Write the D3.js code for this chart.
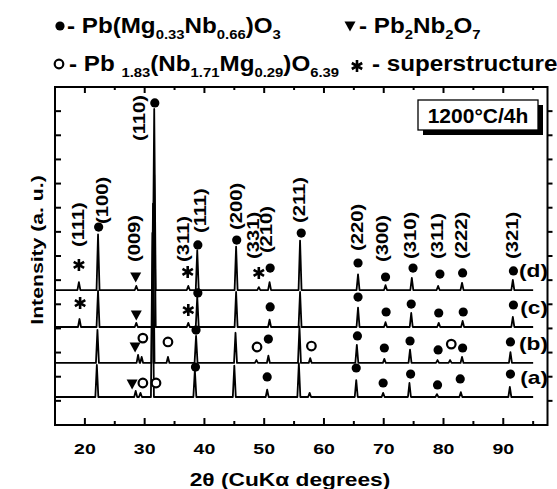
<!DOCTYPE html>
<html>
<head>
<meta charset="utf-8">
<script src="https://cdn.jsdelivr.net/npm/d3@7"></script>
<style>
  body { margin: 0; background: #fff; }
  svg { display: block; font-family: "Liberation Sans", Arial, sans-serif; font-weight: bold; }
</style>
</head>
<body>
<svg id="chart" width="557" height="489"></svg>
<script>
// XRD patterns, 4 stacked traces (a)-(d), intensity in arbitrary units

const traceNames = ["(a)", "(b)", "(c)", "(d)"];
const traceOffsets = [1.16, 2.57, 4.06, 5.59];

// [2theta, peak height]
const peaksA = [[22.0,1.33],[28.5,0.25],[29.3,0.17],[31.3,6.8],[38.4,1.12],[45.0,1.3],[50.5,0.3],
  [55.8,1.4],[57.6,0.17],[65.4,0.7],[69.9,0.17],[74.3,0.58],[78.9,0.12],[82.9,0.2],[91.1,0.42]];
const peaksB = [[22.1,1.37],[28.9,0.33],[29.5,0.25],[31.4,6.6],[33.9,0.25],[38.6,1.12],[45.2,1.25],
  [48.7,0.12],[50.7,0.3],[55.9,1.5],[57.7,0.2],[65.5,0.75],[70.1,0.17],[74.4,0.55],[79.0,0.12],
  [81.1,0.12],[83.1,0.25],[91.2,0.45]];
const peaksC = [[19.1,0.33],[22.2,1.5],[28.6,0.17],[31.6,6.3],[37.3,0.17],[38.8,1.25],[45.3,1.45],
  [50.9,0.3],[56.0,1.45],[65.7,0.8],[70.3,0.2],[74.6,0.58],[79.2,0.17],[83.2,0.25],[91.6,0.42]];
const peaksD = [[19.0,0.33],[22.2,2.3],[28.6,0.17],[31.6,7.5],[37.3,0.17],[38.8,1.65],[45.3,1.8],
  [49.1,0.12],[50.9,0.33],[56.0,2.05],[65.7,0.65],[70.3,0.2],[74.7,0.5],[79.1,0.17],[83.1,0.3],[91.6,0.42]];

// phase markers: [type, 2theta, intensity]
const markersA = [["tri",27.9,1.70],["ring",29.7,1.74],["ring",31.9,1.74],["dot",38.5,2.40],["dot",50.5,1.99],
  ["dot",65.4,2.36],["dot",69.9,1.74],["dot",74.5,2.11],["dot",79.0,1.66],["dot",82.8,1.91],["dot",91.2,2.11]];
const markersB = [["tri",28.4,3.23],["ring",29.7,3.60],["ring",33.9,3.44],["dot",38.6,3.93],["ring",48.8,3.23],
  ["dot",50.7,3.56],["ring",57.9,3.27],["dot",65.6,3.69],["dot",70.1,3.19],["dot",74.4,3.48],["dot",79.1,3.11],
  ["ring",81.3,3.35],["dot",83.2,3.19],["dot",91.2,3.44]];
const markersC = [["star",19.2,5.05],["tri",28.6,4.56],["star",37.3,4.76],["dot",38.9,5.47],["dot",51.0,4.89],
  ["dot",65.7,5.30],["dot",70.4,4.68],["dot",74.6,5.01],["dot",79.2,4.64],["dot",83.3,4.68],["dot",91.7,4.97]];
const markersD = [["star",19.0,6.63],["dot",22.3,8.20],["tri",28.5,6.13],["dot",31.7,13.34],["star",37.2,6.34],
  ["dot",38.9,7.46],["dot",45.4,7.66],["star",49.1,6.30],["dot",51.0,6.50],["dot",56.2,7.95],["dot",65.7,6.71],
  ["dot",70.3,6.13],["dot",74.9,6.50],["dot",79.4,6.25],["dot",83.2,6.30],["dot",91.7,6.38]];

// hkl labels: [text, 2theta, intensity at text start]
const hklLabels = [["(111)",18.85,7.37],["(100)",23.0,8.33],["(009)",28.2,6.75],["(110)",29.2,11.76],
  ["(311)",36.4,6.75],["(111)",39.3,7.95],["(200)",45.3,8.08],["(331)",48.2,6.88],["(210)",50.3,7.12],
  ["(211)",55.9,8.37],["(220)",65.6,7.21],["(300)",69.8,6.75],["(310)",74.5,6.88],["(311)",79.0,6.88],
  ["(222)",83.0,6.88],["(321)",91.5,6.88]];

const xTicks = [20, 30, 40, 50, 60, 70, 80, 90];
const xMinor = [15, 25, 35, 45, 55, 65, 75, 85, 95];

const traces = [peaksA, peaksB, peaksC, peaksD];
const markers = [markersA, markersB, markersC, markersD];

const margin = { left: 55, right: 547.5, top: 87, bottom: 425 };
const svg = d3.select("#chart");

const x = d3.scaleLinear().domain([15, 97.4]).range([margin.left, margin.right]);
const y = d3.scaleLinear().domain([0, 14]).range([margin.bottom, margin.top]);

// traces: straight spikes from baseline
const hw = 0.25;
const line = d3.line().x(d => x(d[0])).y(d => y(d[1]));
traces.forEach((pk, i) => {
  const off = traceOffsets[i];
  const pts = [[15, off]];
  pk.forEach(p => {
    pts.push([p[0] - hw, off], [p[0], off + p[1]], [p[0] + hw, off]);
  });
  pts.push([95, off]);
  svg.append("path").datum(pts)
    .attr("d", line)
    .attr("fill", "none")
    .attr("stroke", "#000")
    .attr("stroke-width", 1.8)
    .attr("stroke-linejoin", "round");
});

// frame + ticks
svg.append("rect")
  .attr("x", margin.left).attr("y", margin.top)
  .attr("width", margin.right - margin.left).attr("height", margin.bottom - margin.top)
  .attr("fill", "none").attr("stroke", "#000").attr("stroke-width", 2);

const ticks = svg.append("g").attr("stroke", "#000").attr("stroke-width", 2);
xTicks.forEach(v => {
  ticks.append("line").attr("x1", x(v)).attr("x2", x(v)).attr("y1", margin.bottom).attr("y2", margin.bottom - 7);
  ticks.append("line").attr("x1", x(v)).attr("x2", x(v)).attr("y1", margin.top).attr("y2", margin.top + 6);
});
xMinor.forEach(v => {
  ticks.append("line").attr("x1", x(v)).attr("x2", x(v)).attr("y1", margin.bottom).attr("y2", margin.bottom - 4);
  ticks.append("line").attr("x1", x(v)).attr("x2", x(v)).attr("y1", margin.top).attr("y2", margin.top + 3);
});
d3.range(1, 14).forEach(v => {
  ticks.append("line").attr("x1", margin.left).attr("x2", margin.left + 6).attr("y1", y(v)).attr("y2", y(v));
  ticks.append("line").attr("x1", margin.right).attr("x2", margin.right + 5).attr("y1", y(v)).attr("y2", y(v));
});

// text stretched along its reading direction
function sText(str, tx, ty, size, sx, anchor, rot) {
  const tr = `translate(${tx},${ty})` + (rot ? ` rotate(${rot})` : "") + ` scale(${sx},1)`;
  return svg.append("text").attr("transform", tr)
    .attr("font-size", size).attr("text-anchor", anchor || "start").text(str);
}

xTicks.forEach(v => sText(v, x(v), 454, 15, 1.3, "middle"));
sText("2\u03b8 (CuK\u03b1 degrees)", 290, 486, 17.5, 1.3, "middle");
sText("Intensity (a. u.)", 43, 250, 16.3, 1.3, "middle", -90);

// hkl labels
hklLabels.forEach(d => {
  sText(d[0], x(d[1]), y(d[2]), 16, 1.26, "start", -90).attr("dy", "0.35em");
});

// trace names
traceNames.forEach((n, i) => {
  sText(n, 548, y(traceOffsets[i] + 0.8), 18, 1.26, "end").attr("dy", "0.35em");
});

// markers
function drawMarker(g, type, cx, cy) {
  if (type === "dot") {
    g.append("circle").attr("cx", cx).attr("cy", cy).attr("r", 4.6).attr("fill", "#000");
  } else if (type === "ring") {
    g.append("circle").attr("cx", cx).attr("cy", cy).attr("r", 4.3)
      .attr("fill", "#fff").attr("stroke", "#000").attr("stroke-width", 2.2);
  } else if (type === "tri") {
    g.append("path").attr("d", `M${cx - 5.5},${cy - 4.5}L${cx + 5.5},${cy - 4.5}L${cx},${cy + 5.5}Z`).attr("fill", "#000");
  } else if (type === "star") {
    const r = 6;
    let dd = "";
    [90, 30, 150].forEach(a => {
      const dx = r * Math.cos(a * Math.PI / 180), dy = r * Math.sin(a * Math.PI / 180);
      dd += `M${cx - dx},${cy - dy}L${cx + dx},${cy + dy}`;
    });
    g.append("path").attr("d", dd).attr("stroke", "#000").attr("stroke-width", 2.6).attr("fill", "none");
  }
}
const mg = svg.append("g");
markers.forEach(ms => ms.forEach(m => drawMarker(mg, m[0], x(m[1]), y(m[2]))));

// condition box
svg.append("rect").attr("x", 423).attr("y", 105).attr("width", 120).attr("height", 30).attr("fill", "#000");
svg.append("rect").attr("x", 418).attr("y", 100).attr("width", 120).attr("height", 30)
  .attr("fill", "#fff").attr("stroke", "#000").attr("stroke-width", 1.3);
sText("1200\u00b0C/4h", 478, 123, 21, 1, "middle");

// legend
const lg = svg.append("g");
drawMarker(lg, "dot", 60, 26);
drawMarker(lg, "tri", 350, 26);
drawMarker(lg, "ring", 59, 64);
drawMarker(lg, "star", 357, 66);

function legendText(parts, tx, ty) {
  const t = svg.append("text").attr("transform", `translate(${tx},${ty}) scale(1.1,1)`).attr("font-size", 22);
  let sub = false;
  parts.forEach((p, i) => {
    const isSub = i % 2 === 1;
    const ts = t.append("tspan").text(p);
    if (isSub) { ts.attr("font-size", 13.5).attr("dy", 6); sub = true; }
    else if (sub) { ts.attr("dy", -6); sub = false; }
  });
}
legendText(["- Pb(Mg", "0.33", "Nb", "0.66", ")O", "3"], 67, 33);
legendText(["- Pb", "2", "Nb", "2", "O", "7"], 359, 33);
legendText(["- Pb ", "1.83", "(Nb", "1.71", "Mg", "0.29", ")O", "6.39"], 69, 71);
legendText(["- superstructure"], 372, 71);
</script>
</body>
</html>
